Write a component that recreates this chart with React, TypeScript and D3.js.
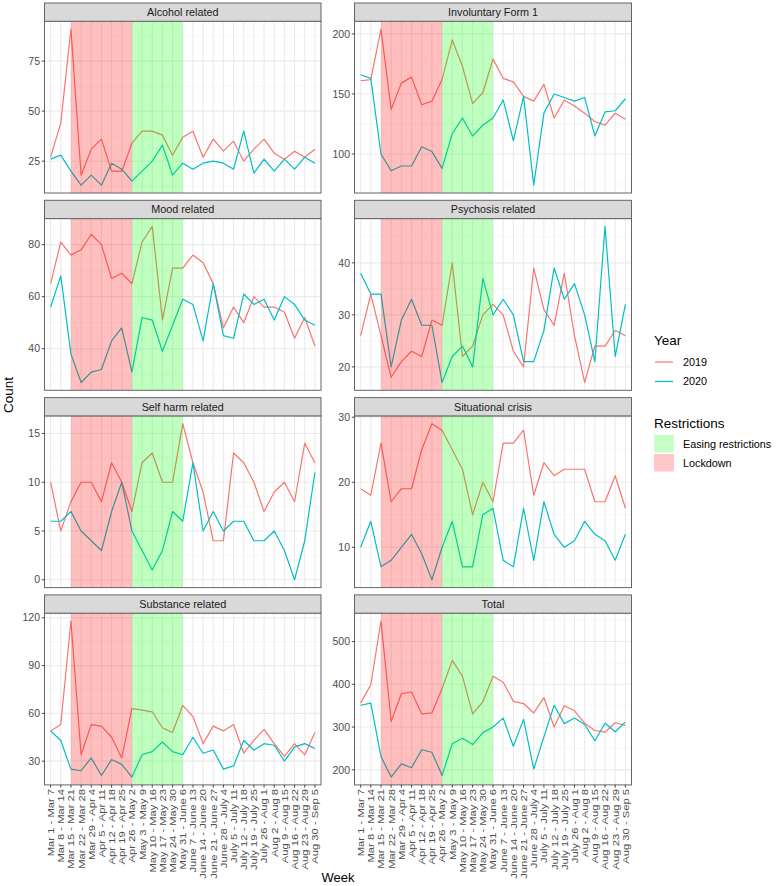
import React from "react";
import * as d3 from "d3";

const weeks = [
  "Mar 1 - Mar 7", "Mar 8 - Mar 14", "Mar 15 - Mar 21", "Mar 22 - Mar 28", "Mar 29 - Apr 4",
  "Apr 5 - Apr 11", "Apr 12 - Apr 18", "Apr 19 - Apr 25", "Apr 26 - May 2", "May 3 - May 9",
  "May 10 - May 16", "May 17 - May 23", "May 24 - May 30", "May 31 - June 6", "June 7 - June 13",
  "June 14 - June 20", "June 21 - June 27", "June 28 - July 4", "July 5 - July 11", "July 12 - July 18",
  "July 19 - July 25", "July 26 - Aug 1", "Aug 2 - Aug 8", "Aug 9 - Aug 15", "Aug 16 - Aug 22",
  "Aug 23 - Aug 29", "Aug 30 - Sep 5",
];

const panelNames = [
  "Alcohol related", "Involuntary Form 1", "Mood related", "Psychosis related",
  "Self harm related", "Situational crisis", "Substance related", "Total",
];

const alcohol2019 = [27, 44, 91, 18, 31, 36, 20, 20, 34, 40, 40, 38, 28, 37, 40, 27, 36, 30, 35, 25, 31, 36, 29, 26, 30, 27, 31];
const alcohol2020 = [26, 28, 20, 13, 18, 13, 24, 21, 15, 20, 25, 33, 18, 24, 21, 24, 25, 24, 21, 40, 19, 26, 20, 26, 21, 27, 24];
const invol2019 = [161, 162, 204, 137, 159, 164, 141, 144, 162, 195, 173, 142, 151, 179, 163, 160, 148, 144, 158, 130, 145, 140, 134, 127, 124, 134, 129];
const invol2020 = [166, 163, 100, 86, 90, 90, 106, 102, 88, 117, 130, 115, 124, 130, 145, 111, 148, 74, 134, 150, 147, 144, 147, 115, 135, 136, 146];
const mood2019 = [65, 81, 76, 78, 84, 80, 67, 69, 65, 81, 87, 51, 71, 71, 76, 73, 65, 48, 56, 50, 60, 56, 56, 54, 44, 52, 41];
const mood2020 = [56, 68, 38, 27, 31, 32, 43, 48, 31, 52, 51, 39, 49, 59, 57, 43, 65, 45, 44, 61, 57, 59, 51, 60, 57, 51, 49];
const psych2019 = [26, 34, 26, 18, 21, 23, 22, 29, 28, 40, 22, 24, 30, 32, 30, 23, 20, 39, 31, 28, 38, 26, 17, 24, 24, 27, 26];
const psych2020 = [38, 34, 34, 20, 29, 33, 28, 28, 17, 22, 24, 20, 37, 30, 33, 30, 21, 21, 27, 39, 33, 36, 30, 21, 47, 22, 32];
const selfharm2019 = [10, 5, 8, 10, 10, 8, 12, 10, 7, 12, 13, 10, 10, 16, 12, 9, 4, 4, 13, 12, 10, 7, 9, 10, 8, 14, 12];
const selfharm2020 = [6, 6, 7, 5, 4, 3, 7, 10, 5, 3, 1, 3, 7, 6, 12, 5, 7, 5, 6, 6, 4, 4, 5, 3, 0, 4, 11];
const situ2019 = [19, 18, 26, 17, 19, 19, 25, 29, 28, 25, 22, 15, 20, 17, 26, 26, 28, 18, 23, 21, 22, 22, 22, 17, 17, 21, 16];
const situ2020 = [10, 14, 7, 8, 10, 12, 9, 5, 10, 14, 7, 7, 15, 16, 8, 7, 16, 8, 17, 12, 10, 11, 14, 12, 11, 8, 12];
const subst2019 = [49, 53, 118, 34, 53, 52, 45, 32, 63, 62, 61, 51, 48, 65, 58, 41, 52, 49, 53, 35, 43, 50, 41, 33, 41, 34, 48];
const subst2020 = [49, 43, 25, 24, 32, 21, 31, 28, 20, 34, 36, 42, 36, 34, 45, 35, 37, 25, 27, 43, 37, 41, 40, 30, 39, 41, 38];
const total2019 = [356, 399, 548, 313, 378, 382, 331, 333, 390, 456, 419, 331, 359, 419, 405, 360, 355, 333, 369, 300, 350, 338, 309, 292, 288, 310, 304];
const total2020 = [351, 356, 231, 183, 214, 205, 247, 241, 187, 261, 274, 259, 287, 300, 321, 255, 318, 202, 277, 351, 308, 321, 306, 268, 309, 289, 312];

const series2019 = [alcohol2019, invol2019, mood2019, psych2019, selfharm2019, situ2019, subst2019, total2019];
const series2020 = [alcohol2020, invol2020, mood2020, psych2020, selfharm2020, situ2020, subst2020, total2020];

const yTicks = [
  [25, 50, 75], [100, 150, 200], [40, 60, 80], [20, 30, 40],
  [0, 5, 10, 15], [10, 20, 30], [30, 60, 90, 120], [200, 300, 400, 500],
];

const years = ["2019", "2020"];
const yearColors = ["#F8766D", "#00BFC4"];
const restrictions = [
  { name: "Lockdown", start: "Mar 15 - Mar 21", end: "Apr 26 - May 2", color: "#FF0000" },
  { name: "Easing restrictions", start: "Apr 26 - May 2", end: "May 31 - June 6", color: "#00FF00" },
];
const legendRestrictions = ["Easing restrictions", "Lockdown"];

const FONT = "'Liberation Sans', Arial, Helvetica, sans-serif";
const colX = [[44.5, 321], [354.5, 631.5]];
const row0 = 3;
const rowStep = 197.3;
const stripH = 18.3;
const plotH = 171.7;

function Panel({ idx }: { idx: number }) {
  const col = idx % 2;
  const row = Math.floor(idx / 2);
  const [x0, x1] = colX[col];
  const sTop = row0 + row * rowStep;
  const pTop = sTop + stripH;
  const pBot = pTop + plotH;
  const x = d3.scalePoint<string>().domain(weeks).range([x0, x1]).padding(0.6);
  const all = [...series2019[idx], ...series2020[idx]];
  const mn = d3.min(all) as number;
  const mx = d3.max(all) as number;
  const pad = (mx - mn) * 0.05;
  const y = d3.scaleLinear().domain([mn - pad, mx + pad]).range([pBot, pTop]);
  const ticks = yTicks[idx];
  const step = ticks[1] - ticks[0];
  const minor: number[] = [];
  for (let v = ticks[0] - step / 2; v <= mx + pad; v += step) {
    if (v >= mn - pad) minor.push(v);
  }
  const line = d3.line<number>().x((_, i) => x(weeks[i]) as number).y((d) => y(d));
  const showX = row === 3;
  return (
    <g>
      <rect x={x0} y={pTop} width={x1 - x0} height={plotH} fill="#fff" />
      {minor.map((v, i) => (
        <line key={"mn" + i} x1={x0} x2={x1} y1={y(v)} y2={y(v)} stroke="#F2F2F2" strokeWidth={0.6} />
      ))}
      {ticks.map((v) => (
        <line key={"mj" + v} x1={x0} x2={x1} y1={y(v)} y2={y(v)} stroke="#EBEBEB" strokeWidth={1.1} />
      ))}
      {weeks.map((w) => (
        <line key={"v" + w} x1={x(w)} x2={x(w)} y1={pTop} y2={pBot} stroke="#EBEBEB" strokeWidth={1.1} />
      ))}
      {[series2019[idx], series2020[idx]].map((s, k) => (
        <path key={"l" + k} d={line(s) || ""} fill="none" stroke={yearColors[k]} strokeWidth={1.2} strokeLinejoin="round" />
      ))}
      {restrictions.map((r) => (
        <rect key={r.name} x={x(r.start)} y={pTop} width={(x(r.end) as number) - (x(r.start) as number)} height={plotH}
          fill={r.color} fillOpacity={0.25} />
      ))}
      <rect x={x0} y={pTop} width={x1 - x0} height={plotH} fill="none" stroke="#666" strokeWidth={1} />
      <rect x={x0} y={sTop} width={x1 - x0} height={stripH} fill="#D9D9D9" stroke="#666" strokeWidth={1} />
      <text x={(x0 + x1) / 2} y={sTop + stripH / 2} dy="0.35em" textAnchor="middle" fontSize={10.8} fill="#1A1A1A" fontFamily={FONT}>
        {panelNames[idx]}
      </text>
      {ticks.map((v) => (
        <g key={"t" + v}>
          <line x1={x0 - 2.7} x2={x0} y1={y(v)} y2={y(v)} stroke="#333" strokeWidth={0.9} />
          <text x={x0 - 4.5} y={y(v)} dy="0.35em" textAnchor="end" fontSize={10.5} fill="#4D4D4D" fontFamily={FONT}>{v}</text>
        </g>
      ))}
      {showX && weeks.map((w) => (
        <g key={"xt" + w}>
          <line x1={x(w)} x2={x(w)} y1={pBot} y2={pBot + 2.7} stroke="#333" strokeWidth={0.9} />
          <text transform={`translate(${x(w)},${pBot + 4}) rotate(-90) scale(1.06,0.92)`} dy="0.35em" textAnchor="end" fontSize={10.6}
            fill="#4D4D4D" fontFamily={FONT}>{w}</text>
        </g>
      ))}
    </g>
  );
}

export default function App() {
  return (
    <svg width={778} height={886} style={{ position: "absolute", left: 0, top: 0, background: "#fff" }}>
      <rect width={778} height={886} fill="#fff" />
      {panelNames.map((_, i) => <Panel key={i} idx={i} />)}
      <text transform={`translate(13,395) rotate(-90)`} textAnchor="middle" fontSize={13.5} fill="#000" fontFamily={FONT}>Count</text>
      <text x={338} y={882} textAnchor="middle" fontSize={13} fill="#000" fontFamily={FONT}>Week</text>
      <text x={654} y={345} fontSize={13.5} fill="#000" fontFamily={FONT}>Year</text>
      {years.map((yr, i) => (
        <g key={yr}>
          <line x1={655} x2={673} y1={362 + i * 19.5} y2={362 + i * 19.5} stroke={yearColors[i]} strokeWidth={1.2} />
          <text x={683} y={362 + i * 19.5} dy="0.35em" fontSize={10.8} fill="#000" fontFamily={FONT}>{yr}</text>
        </g>
      ))}
      <text x={654} y={428} fontSize={13.5} fill="#000" fontFamily={FONT}>Restrictions</text>
      {legendRestrictions.map((nm, i) => {
        const r = restrictions.find((q) => q.name === nm)!;
        return (
          <g key={nm}>
            <rect x={654} y={435 + i * 19} width={20} height={17.5} fill={r.color} fillOpacity={0.22} />
            <text x={683} y={444 + i * 19} dy="0.35em" fontSize={10.8} fill="#000" fontFamily={FONT}>{nm}</text>
          </g>
        );
      })}
    </svg>
  );
}
